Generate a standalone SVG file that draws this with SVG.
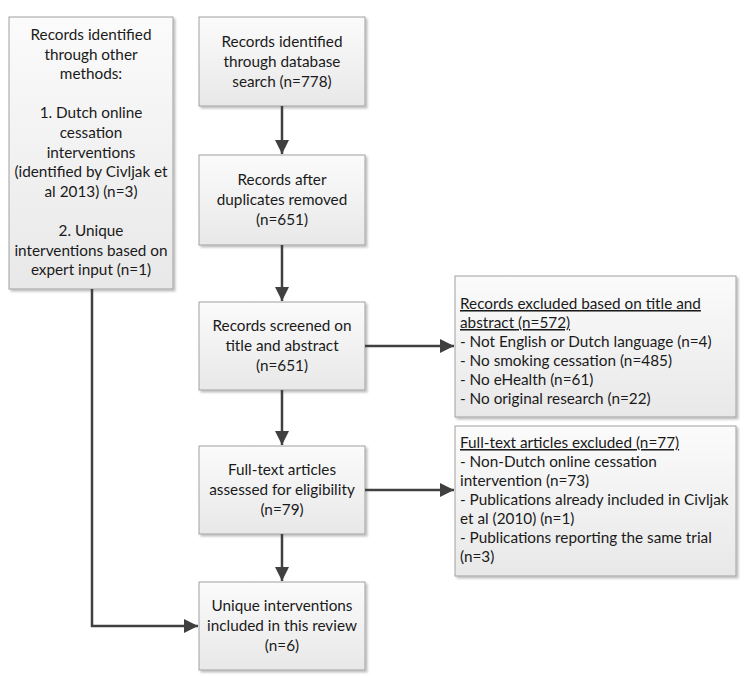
<svg xmlns="http://www.w3.org/2000/svg" width="746" height="676" viewBox="0 0 746 676">
<defs>
  <linearGradient id="g" x1="0" y1="0" x2="0" y2="1">
    <stop offset="0" stop-color="#fbfbfb"/>
    <stop offset="1" stop-color="#e8e8e8"/>
  </linearGradient>
  <filter id="sh" x="-5%" y="-5%" width="115%" height="115%">
    <feDropShadow dx="2" dy="2" stdDeviation="1.2" flood-color="#000" flood-opacity="0.25"/>
  </filter>
  <marker id="ah" viewBox="0 0 10 10" refX="10" refY="5" markerWidth="5.6" markerHeight="5.6" markerUnits="strokeWidth" orient="auto">
    <path d="M0,0 L10,5 L0,10 z" fill="#404040"/>
  </marker>
  <style>
    .box { fill: url(#g); stroke: #a0a0a0; stroke-width: 1; filter: url(#sh); }
    text { font-family: Lato, "Open Sans", "Liberation Sans", sans-serif; font-size: 15.3px; fill: #1a1a1a; }
    .c { text-anchor: middle; }
    .u { text-decoration: underline; }
    .ln { stroke: #404040; stroke-width: 2.5; fill: none; }
  </style>
</defs>

<g id="other-methods">
  <rect class="box" x="9" y="17" width="164" height="272"/>
  <text class="c" x="91" y="40">Records identified</text>
  <text class="c" x="91" y="59.6">through other</text>
  <text class="c" x="91" y="79.2">methods:</text>
  <text class="c" x="91" y="118.4">1. Dutch online</text>
  <text class="c" x="91" y="138">cessation</text>
  <text class="c" x="91" y="157.6">interventions</text>
  <text class="c" x="91" y="177.2">(identified by Civljak et</text>
  <text class="c" x="91" y="196.8">al 2013) (n=3)</text>
  <text class="c" x="91" y="236">2. Unique</text>
  <text class="c" x="91" y="255.6">interventions based on</text>
  <text class="c" x="91" y="275.2">expert input (n=1)</text>
</g>

<g id="db-search">
  <rect class="box" x="199" y="17" width="166" height="89"/>
  <text class="c" x="282" y="47">Records identified</text>
  <text class="c" x="282" y="67">through database</text>
  <text class="c" x="282" y="87">search (n=778)</text>
</g>

<g id="duplicates">
  <rect class="box" x="199" y="155" width="166" height="90"/>
  <text class="c" x="282" y="185">Records after</text>
  <text class="c" x="282" y="205">duplicates removed</text>
  <text class="c" x="282" y="225">(n=651)</text>
</g>

<g id="screened">
  <rect class="box" x="199" y="302" width="166" height="88"/>
  <text class="c" x="282" y="331">Records screened on</text>
  <text class="c" x="282" y="351">title and abstract</text>
  <text class="c" x="282" y="371">(n=651)</text>
</g>

<g id="fulltext">
  <rect class="box" x="199" y="446" width="166" height="88"/>
  <text class="c" x="282" y="475">Full-text articles</text>
  <text class="c" x="282" y="495">assessed for eligibility</text>
  <text class="c" x="282" y="515">(n=79)</text>
</g>

<g id="included">
  <rect class="box" x="199" y="582" width="166" height="88"/>
  <text class="c" x="282" y="611">Unique interventions</text>
  <text class="c" x="282" y="631">included in this review</text>
  <text class="c" x="282" y="651">(n=6)</text>
</g>

<g id="excluded-title">
  <rect class="box" x="455" y="276" width="281" height="141"/>
  <text class="u" x="460" y="309">Records excluded based on title and</text>
  <text class="u" x="460" y="328">abstract (n=572)</text>
  <text x="460" y="347">- Not English or Dutch language (n=4)</text>
  <text x="460" y="366">- No smoking cessation (n=485)</text>
  <text x="460" y="385">- No eHealth (n=61)</text>
  <text x="460" y="404">- No original research (n=22)</text>
</g>

<g id="excluded-fulltext">
  <rect class="box" x="455" y="426" width="281" height="150"/>
  <text class="u" x="460" y="448">Full-text articles excluded (n=77)</text>
  <text x="460" y="467">- Non-Dutch online cessation</text>
  <text x="460" y="486">intervention (n=73)</text>
  <text x="460" y="505">- Publications already included in Civljak</text>
  <text x="460" y="524">et al (2010) (n=1)</text>
  <text x="460" y="543">- Publications reporting the same trial</text>
  <text x="460" y="562">(n=3)</text>
</g>

<g id="connectors">
  <line class="ln" x1="282" y1="106" x2="282" y2="154" marker-end="url(#ah)"/>
  <line class="ln" x1="282" y1="245" x2="282" y2="301" marker-end="url(#ah)"/>
  <line class="ln" x1="282" y1="390" x2="282" y2="445" marker-end="url(#ah)"/>
  <line class="ln" x1="282" y1="534" x2="282" y2="581" marker-end="url(#ah)"/>
  <line class="ln" x1="365" y1="346" x2="454" y2="346" marker-end="url(#ah)"/>
  <line class="ln" x1="365" y1="490" x2="454" y2="490" marker-end="url(#ah)"/>
  <polyline class="ln" points="92,289 92,626 198,626" marker-end="url(#ah)"/>
</g>
</svg>
